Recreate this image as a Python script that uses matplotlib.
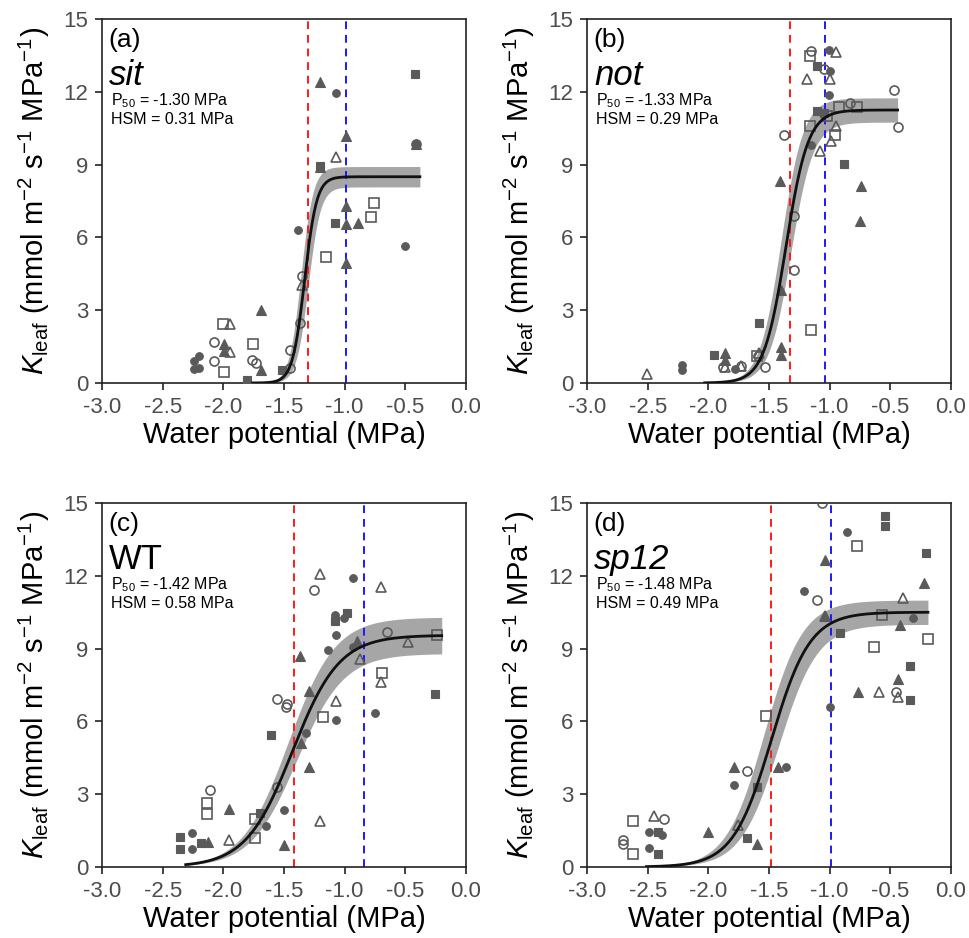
import numpy as np
import matplotlib
matplotlib.use("Agg")
import matplotlib.pyplot as plt

plt.rcParams['font.family'] = ['Liberation Sans', 'DejaVu Sans']
plt.rcParams['mathtext.fontset'] = 'custom'
plt.rcParams['mathtext.rm'] = 'Liberation Sans'
plt.rcParams['mathtext.it'] = 'Liberation Sans:italic'
plt.rcParams['mathtext.bf'] = 'Liberation Sans:bold'

# ---- data: (water potential, Kleaf) ----
a_filled_circle = [(-1.074, 11.96), (-1.388, 6.3), (-0.5, 5.63), (-2.2, 1.13), (-2.24, 0.89),
                   (-2.24, 0.57), (-2.2, 0.61), (-0.41, 9.86)]
a_filled_square = [(-0.418, 12.73), (-1.08, 6.58), (-1.2, 8.95), (-1.516, 0.52), (-1.806, 0.11)]
a_filled_triangle = [(-1.205, 12.39), (-0.986, 10.19), (-1.69, 3.0), (-0.986, 7.3), (-0.986, 6.55),
                     (-0.888, 6.59), (-0.986, 4.95), (-1.995, 1.6), (-1.995, 1.3), (-1.69, 0.55),
                     (-1.205, 8.9), (-0.41, 9.86)]
a_open_circle = [(-2.08, 1.68), (-2.08, 0.89), (-1.765, 0.95), (-1.73, 0.82), (-1.37, 2.48),
                 (-1.45, 1.36), (-1.45, 0.61), (-1.35, 4.4), (-0.41, 9.86)]
a_open_square = [(-0.76, 7.4), (-0.787, 6.86), (-1.156, 5.18), (-2.0, 2.45), (-1.757, 1.6), (-1.995, 0.45)]
a_open_triangle = [(-1.068, 9.32), (-1.948, 2.45), (-1.948, 1.27), (-1.35, 4.02)]

b_filled_circle = [(-1.008, 13.74), (-1.008, 11.88), (-1.15, 9.79), (-2.214, 0.76), (-2.214, 0.55),
                   (-1.78, 0.59), (-1.0, 12.84)]
b_filled_square = [(-1.104, 13.08), (-1.104, 11.2), (-1.05, 11.13), (-0.885, 9.04), (-1.584, 2.47), (-1.95, 1.14)]
b_filled_triangle = [(-1.41, 8.31), (-0.74, 8.1), (-0.753, 6.69), (-1.405, 3.85), (-1.405, 1.48),
                     (-1.405, 1.14), (-1.863, 1.24), (-1.863, 0.96)]
b_open_circle = [(-1.15, 13.7), (-1.05, 12.94), (-0.466, 12.06), (-0.438, 10.55), (-0.836, 11.54),
                 (-1.375, 10.23), (-1.293, 6.87), (-1.293, 4.67), (-1.882, 0.66), (-1.734, 0.69),
                 (-1.534, 0.66), (-1.59, 1.1)]
b_open_square = [(-1.164, 13.46), (-0.926, 11.36), (-0.775, 11.36), (-1.022, 10.99), (-1.164, 10.58),
                 (-0.953, 10.23), (-1.15, 2.17), (-1.595, 1.1)]
b_open_triangle = [(-2.507, 0.38), (-1.186, 12.54), (-0.945, 13.63), (-0.995, 12.54), (-0.95, 10.58),
                   (-0.986, 9.96), (-1.082, 9.55), (-1.863, 0.66), (-1.734, 0.69), (-1.586, 1.24)]

c_filled_circle = [(-0.934, 11.92), (-1.082, 10.37), (-1.082, 10.14), (-1.003, 10.26), (-1.071, 9.57),
                   (-1.14, 8.95), (-0.934, 9.06), (-0.747, 6.33), (-1.071, 6.06), (-1.316, 5.54),
                   (-1.503, 2.33), (-1.646, 1.71), (-2.258, 1.41), (-2.258, 0.74)]
c_filled_square = [(-0.981, 10.48), (-1.082, 10.14), (-0.258, 7.13), (-1.607, 5.43), (-1.7, 2.23),
                   (-2.354, 1.24), (-2.354, 0.74), (-2.181, 0.97)]
c_filled_triangle = [(-0.898, 9.31), (-1.365, 8.68), (-1.297, 7.27), (-1.36, 5.1), (-1.297, 4.14),
                     (-1.956, 2.41), (-2.126, 1.03), (-1.503, 0.92)]
c_open_circle = [(-1.255, 11.41), (-0.651, 9.68), (-1.558, 6.92), (-1.475, 6.72), (-1.48, 6.61),
                 (-1.558, 3.31), (-2.107, 3.16)]
c_open_square = [(-0.239, 9.54), (-0.692, 8.0), (-1.18, 6.17), (-2.135, 2.65), (-2.135, 2.17),
                 (-1.736, 1.96), (-1.736, 1.2)]
c_open_triangle = [(-1.206, 12.07), (-0.698, 11.52), (-0.481, 9.27), (-0.876, 8.58), (-0.698, 7.64),
                   (-1.071, 6.83), (-1.206, 1.89), (-1.956, 1.10)]

d_filled_circle = [(-0.858, 13.81), (-1.211, 11.39), (-0.315, 10.26), (-0.995, 6.61), (-1.362, 4.12),
                   (-1.789, 3.36), (-2.485, 1.44), (-2.485, 0.78), (-2.384, 1.3)]
d_filled_square = [(-0.548, 14.47), (-0.548, 14.06), (-0.205, 12.92), (-0.918, 9.63), (-0.337, 8.27),
                   (-0.337, 6.89), (-1.595, 3.29), (-1.685, 1.21), (-2.416, 1.44), (-2.416, 0.55)]
d_filled_triangle = [(-1.041, 12.65), (-0.219, 11.7), (-1.041, 10.36), (-0.419, 9.97), (-0.438, 7.75),
                     (-0.767, 7.2), (-1.425, 4.14), (-1.789, 4.14), (-2.005, 1.44), (-1.595, 0.93)]
d_open_circle = [(-1.063, 15.0), (-1.101, 11.0), (-0.452, 7.23), (-1.685, 3.95), (-2.362, 1.99),
                 (-2.707, 1.1), (-2.707, 0.96)]
d_open_square = [(-0.775, 13.21), (-0.57, 10.38), (-0.638, 9.05), (-0.186, 9.4), (-1.526, 6.24),
                 (-2.625, 1.88), (-2.625, 0.55)]
d_open_triangle = [(-0.397, 11.08), (-0.597, 7.2), (-0.438, 7.0), (-2.444, 2.09), (-1.753, 1.74),
                   (-1.041, 10.36)]

panel_tags = ['(a)', '(b)', '(c)', '(d)']
genotypes = ['sit', 'not', 'WT', 'sp12']
genotype_italic = [True, True, False, True]
p50 = [-1.30, -1.33, -1.42, -1.48]
hsm = [0.31, 0.29, 0.58, 0.49]

# sigmoid fit: Kmax, slope, midpoint, band half-width (K and x), x range
fit_kmax = [8.5, 11.25, 9.55, 10.5]
fit_slope = [20, 11, 5.2, 6.3]
fit_mid = [-1.33, -1.36, -1.43, -1.48]
band_dk = [0.42, 0.5, 0.75, 0.5]
band_dx = [0.03, 0.04, 0.035, 0.06]
fit_xmin = [-1.76, -2.03, -2.31, -2.51]
fit_xmax = [-0.38, -0.44, -0.20, -0.19]

points = [
    [a_filled_circle, a_filled_square, a_filled_triangle, a_open_circle, a_open_square, a_open_triangle],
    [b_filled_circle, b_filled_square, b_filled_triangle, b_open_circle, b_open_square, b_open_triangle],
    [c_filled_circle, c_filled_square, c_filled_triangle, c_open_circle, c_open_square, c_open_triangle],
    [d_filled_circle, d_filled_square, d_filled_triangle, d_open_circle, d_open_square, d_open_triangle],
]
marker_shapes = ['o', 's', '^', 'o', 's', '^']
marker_sizes = [5.5, 5.3, 7, 6.5, 6.5, 7.5]
marker_filled = [True, True, True, False, False, False]

grey = '#5a5a5a'
tick_grey = '#4d4d4d'


def sigmoid(x, kmax, slope, mid):
    return kmax / (1 + np.exp(-slope * (x - mid)))


fig = plt.figure(figsize=(9.69, 9.38), dpi=100)
W, H = 969, 938
boxes = [(102, 19), (587, 19), (102, 503), (587, 503)]
aw, ah = 364, 364

for i in range(4):
    left, top = boxes[i]
    ax = fig.add_axes([left / W, 1 - (top + ah) / H, aw / W, ah / H])

    xs = np.linspace(fit_xmin[i], fit_xmax[i], 300)
    upper = sigmoid(xs, fit_kmax[i] + band_dk[i], fit_slope[i], fit_mid[i] - band_dx[i])
    lower = sigmoid(xs, fit_kmax[i] - band_dk[i], fit_slope[i], fit_mid[i] + band_dx[i])
    ax.fill_between(xs, lower, upper, color='#a6a6a6', lw=0, zorder=1)

    for pts, shp, ms, filled in zip(points[i], marker_shapes, marker_sizes, marker_filled):
        px = [p[0] for p in pts]
        py = [p[1] for p in pts]
        if filled:
            ax.plot(px, py, ls='none', marker=shp, ms=ms, mfc=grey, mec=grey, mew=0.8, zorder=3)
        else:
            ax.plot(px, py, ls='none', marker=shp, ms=ms, mfc='none', mec=grey, mew=1.2, zorder=3)

    ax.plot(xs, sigmoid(xs, fit_kmax[i], fit_slope[i], fit_mid[i]), color='#111111', lw=2.0, zorder=4)

    ax.axvline(p50[i], color='#ff1a1a', ls=(0, (4, 3)), lw=1.4, zorder=2)
    ax.axvline(p50[i] + hsm[i], color='#1a1aff', ls=(0, (4, 3)), lw=1.4, zorder=2)

    ax.set_xlim(-3, 0)
    ax.set_ylim(0, 15)
    ax.set_xticks(np.arange(-3, 0.01, 0.5))
    ax.set_xticklabels(['%.1f' % v for v in np.arange(-3, 0.01, 0.5)])
    ax.set_yticks(np.arange(0, 16, 3))
    ax.tick_params(direction='out', length=5, width=1.2, labelsize=16, labelcolor=tick_grey,
                   color='#222222', pad=5)
    for sp in ax.spines.values():
        sp.set_linewidth(1.2)
        sp.set_color('#222222')

    ax.set_xlabel('Water potential (MPa)', fontsize=21, labelpad=2)
    ax.set_ylabel(r'$K_{\mathrm{leaf}}$ (mmol m$^{-2}$ s$^{-1}$ MPa$^{-1}$)', fontsize=21, labelpad=8)

    ax.text(0.018, 0.923, panel_tags[i], transform=ax.transAxes, fontsize=19, va='baseline')
    ax.text(0.02, 0.819, genotypes[i], transform=ax.transAxes, fontsize=25, va='baseline',
            style='italic' if genotype_italic[i] else 'normal')
    ax.text(0.024, 0.764, r'P$_{50}$ = %.2f MPa' % p50[i], transform=ax.transAxes, fontsize=11.5,
            va='baseline')
    ax.text(0.024, 0.712, 'HSM = %.2f MPa' % hsm[i], transform=ax.transAxes, fontsize=11.5,
            va='baseline')

fig.savefig('out.png', dpi=100)
